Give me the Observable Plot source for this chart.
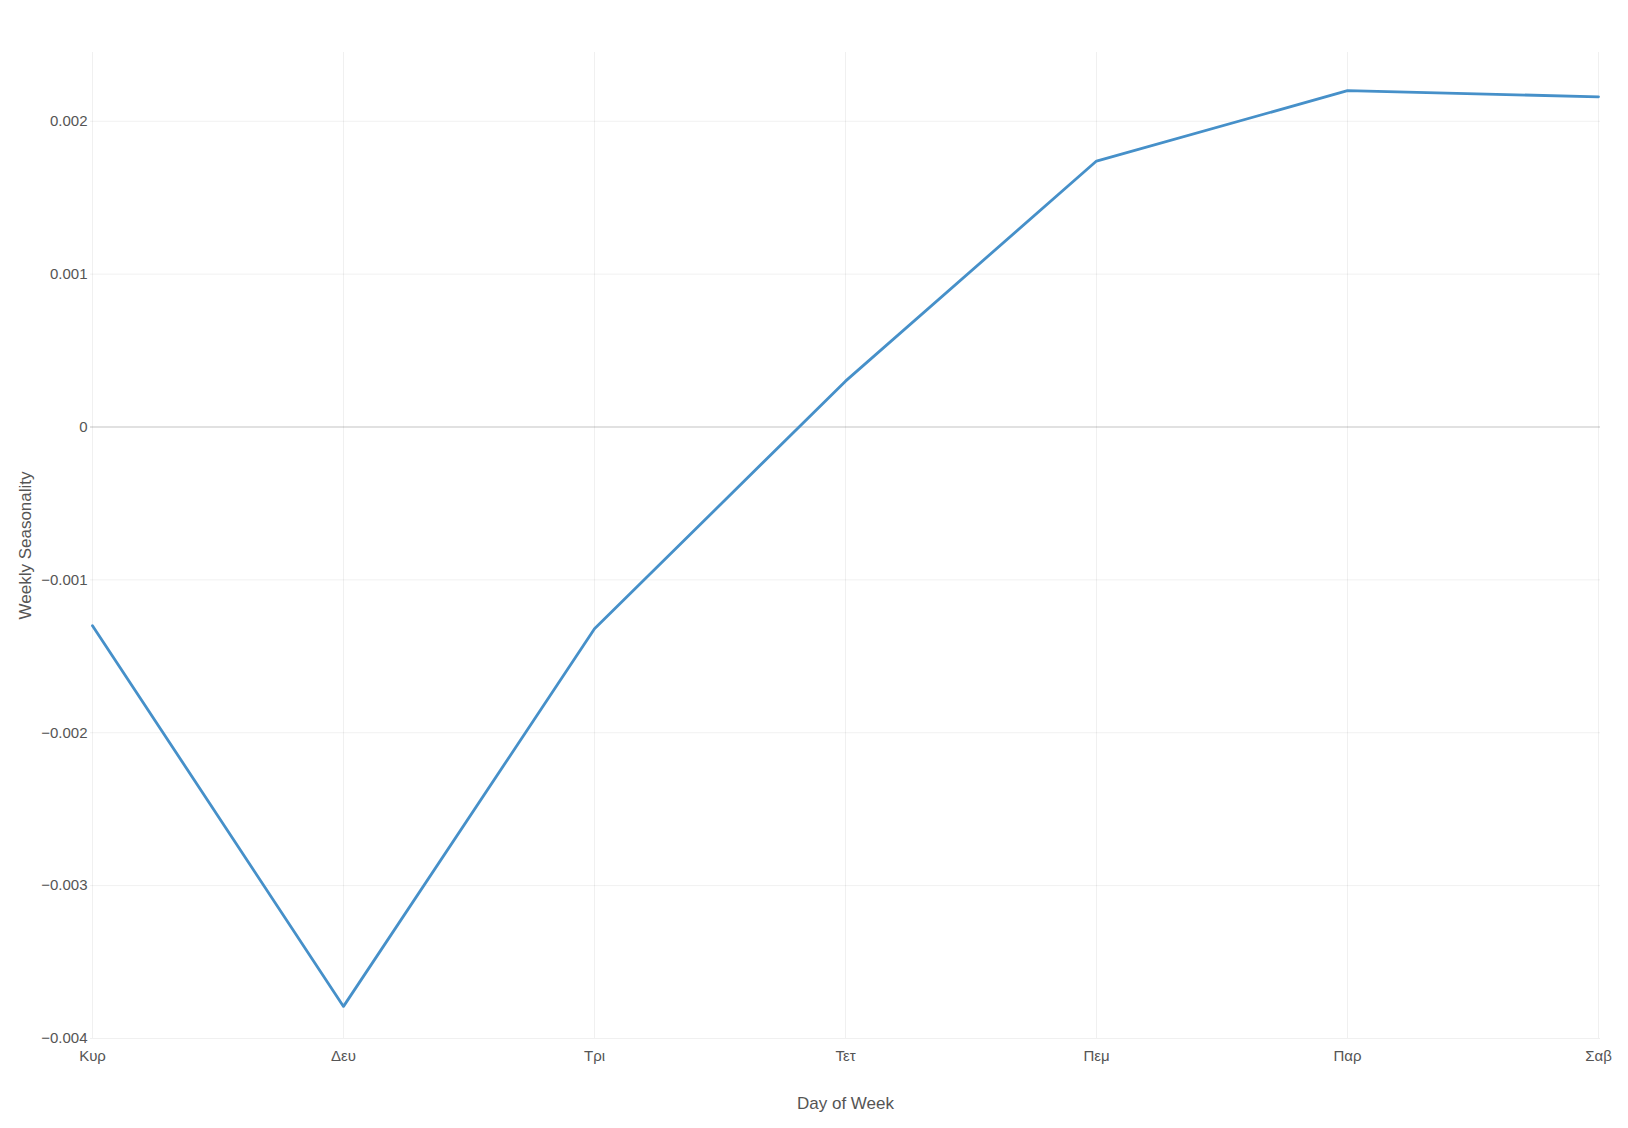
<!DOCTYPE html>
<html>
<head>
<meta charset="utf-8">
<script src="https://cdn.jsdelivr.net/npm/d3@7"></script>
<script src="https://cdn.jsdelivr.net/npm/@observablehq/plot@0.6"></script>
<style>
  html, body { margin: 0; padding: 0; background: #fff; }
  #chart { width: 1628px; height: 1128px; }
</style>
</head>
<body>
<div id="chart"></div>
<script>
const days = ["Κυρ", "Δευ", "Τρι", "Τετ", "Πεμ", "Παρ", "Σαβ"];
const seasonality = [-0.00130, -0.00379, -0.00132, 0.00030, 0.00174, 0.00220, 0.00216];
const yTicks = [-0.004, -0.003, -0.002, -0.001, 0, 0.001, 0.002];

const data = days.map((d, i) => ({day: d, value: seasonality[i]}));

const chart = Plot.plot({
  width: 1628,
  height: 1128,
  marginLeft: 90,
  marginRight: 28,
  marginTop: 52,
  marginBottom: 90,
  style: {fontFamily: "'Liberation Sans', Arial, sans-serif", fontSize: "15px", color: "#555", background: "#fff"},
  x: {type: "point", domain: days, padding: 0},
  y: {domain: [-0.004, 0.00245]},
  marks: [
    Plot.gridX(days, {stroke: "#000", strokeOpacity: 0.06, strokeWidth: 1}),
    Plot.gridY(yTicks, {stroke: "#000", strokeOpacity: 0.06, strokeWidth: 1}),
    Plot.ruleY([0], {stroke: "#000", strokeOpacity: 0.12, strokeWidth: 1.5}),
    Plot.axisX({tickSize: 0, tickPadding: 12, label: "Day of Week", labelAnchor: "center", labelOffset: 70, fontSize: 15}),
    Plot.axisY(yTicks, {tickSize: 0, tickPadding: 3, tickFormat: d3.format(".3~f"), label: "Weekly Seasonality", labelAnchor: "center", labelOffset: 72, labelArrow: "none", fontSize: 15}),
    Plot.line(data, {x: "day", y: "value", stroke: "#4690c9", strokeWidth: 2.8})
  ]
});
chart.querySelectorAll("[aria-label='x-axis label'] text, [aria-label='y-axis label'] text").forEach(t => t.style.fontSize = "17px");
document.getElementById("chart").appendChild(chart);
</script>
</body>
</html>
